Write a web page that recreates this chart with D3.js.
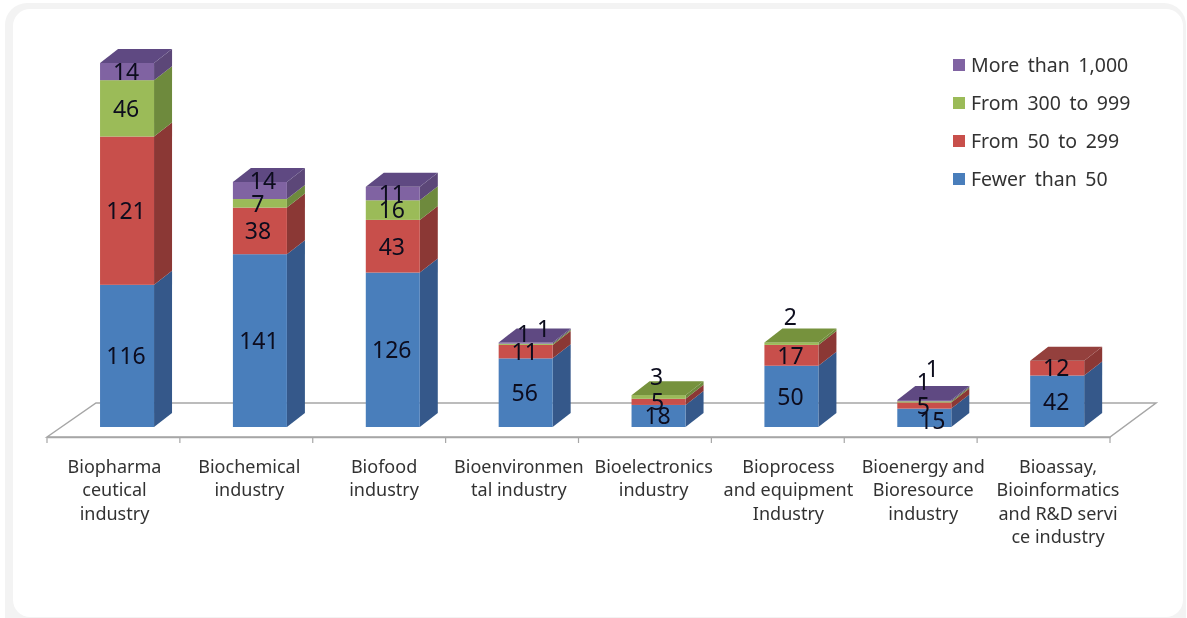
<!DOCTYPE html>
<html><head><meta charset="utf-8">
<script src="https://cdn.jsdelivr.net/npm/d3@7"></script>
<style>html,body{margin:0;padding:0;background:#fff}svg{display:block}text{font-family:"Noto Sans",sans-serif}</style>
</head><body><svg id="c" width="1187" height="618"></svg>
<script>
const categories = [
  ["Biopharma","ceutical","industry"],
  ["Biochemical","industry"],
  ["Biofood","industry"],
  ["Bioenvironmen","tal industry"],
  ["Bioelectronics","industry"],
  ["Bioprocess","and equipment","Industry"],
  ["Bioenergy and","Bioresource","industry"],
  ["Bioassay,","Bioinformatics","and R&D servi","ce industry"]
];
const seriesNames = ["Fewer than 50","From 50 to 299","From 300 to 999","More than 1,000"];
const fewerThan50 = [116,141,126,56,18,50,15,42];
const from50to299 = [121,38,43,11,5,17,5,12];
const from300to999 = [46,7,16,1,3,2,1,0];
const moreThan1000 = [14,14,11,1,0,0,1,0];
const seriesValues = [fewerThan50,from50to299,from300to999,moreThan1000];
const frontColors = ["#4a7ebb","#c8504b","#9bbb59","#8064a2"];
const sideColors = ["#34598a","#8b3735","#6e8a3c","#5b4778"];
const topColors = ["#34598a","#94403c","#76923c","#5f4a82"];
// hand nudges for data labels that were moved off their segment centre: [series, category, dx, dy]
const labelNudges = [
  [3,1,4,-10],[2,1,-1,0],[1,1,-1,0],[2,3,-1,-11],[3,3,19,-14],
  [2,4,-1,-20],[2,5,0,-27],[0,6,9,3],[2,6,0,-20],[3,6,9,-32]
];

const svg = d3.select("#c");
const defs = svg.append("defs");
defs.append("filter").attr("id","soft").append("feGaussianBlur").attr("stdDeviation",0.45);

// card
svg.append("rect").attr("x",5).attr("y",3).attr("width",1181).attr("height",640).attr("rx",22).attr("fill","#f3f3f3");
svg.append("rect").attr("x",13).attr("y",9).attr("width",1170).attr("height",608).attr("rx",17).attr("fill","#fff");

const x = d3.scaleBand().domain(d3.range(8)).range([47,1110]);
const y = d3.scaleLinear().domain([0,297]).range([427,63]);
const labelX = d3.scaleLinear().domain([0,7]).range([114.5,1058]);
const barW = 54, dX = 18, dY = 14;
const cx = i => x(i) + x.bandwidth()/2 + 13.6;

const root = svg.append("g").attr("filter","url(#soft)");

// floor
root.append("path")
  .attr("d",`M47,437L96,403H1156L1110,437Z`)
  .attr("fill","#fff").attr("stroke","#a6a6a6").attr("stroke-width",1.5);

// axis
const axis = d3.axisBottom(x).tickSize(0).tickFormat("");
const ag = root.append("g").attr("transform","translate(0,437)").call(axis);
ag.select(".domain").attr("stroke","#a6a6a6").attr("stroke-width",1.5);
ag.selectAll(".tick").remove();
root.append("g").selectAll("line").data(d3.range(9)).join("line")
  .attr("x1",i=>i<8?x(i):1110).attr("x2",i=>i<8?x(i):1110)
  .attr("y1",437).attr("y2",443).attr("stroke","#a6a6a6").attr("stroke-width",1.2);

// bars
const stack = d3.stack().keys(d3.range(4)).value((d,k)=>d[k]);
const rows = categories.map((c,i)=>seriesValues.map(s=>s[i]));
const layers = stack(rows);
categories.forEach((c,i)=>{
  const g = root.append("g");
  const x0 = cx(i)-barW/2, x1 = x0+barW;
  let topK = 0;
  layers.forEach((l,k)=>{ if(seriesValues[k][i]>0) topK=k; });
  layers.forEach((l,k)=>{
    if(seriesValues[k][i]<=0) return;
    const y0=y(l[i][0]), y1=y(l[i][1]);
    g.append("path").attr("d",`M${x1},${y0}L${x1+dX},${y0-dY}V${y1-dY}L${x1},${y1}Z`).attr("fill",sideColors[k]);
    g.append("rect").attr("x",x0).attr("y",y1).attr("width",barW).attr("height",y0-y1).attr("fill",frontColors[k]);
    if(k===topK){
      g.append("path").attr("d",`M${x0},${y1}L${x0+dX},${y1-dY}H${x1+dX}L${x1},${y1}Z`).attr("fill",topColors[k]);
    }
  });
});

// data labels
layers.forEach((l,k)=>{
  categories.forEach((c,i)=>{
    const v=seriesValues[k][i];
    if(v<=0) return;
    const n=labelNudges.find(a=>a[0]===k&&a[1]===i)||[k,i,0,0];
    root.append("text").attr("x",cx(i)+n[2]-1).attr("y",(y(l[i][0])+y(l[i][1]))/2+n[3])
      .attr("text-anchor","middle").attr("dy","0.36em")
      .attr("font-size",23).attr("fill","#0a0a1e").text(v);
  });
});

// category labels
categories.forEach((c,i)=>{
  const t=root.append("text").attr("text-anchor","middle").attr("font-size",18).attr("fill","#333");
  c.forEach((s,j)=>t.append("tspan").attr("x",labelX(i)).attr("y",473+j*23.3).text(s));
});

// legend
const legendY = d3.scalePoint().domain([3,2,1,0]).range([65,179]);
[3,2,1,0].forEach(k=>{
  root.append("rect").attr("x",953).attr("y",legendY(k)-6).attr("width",12).attr("height",12).attr("fill",frontColors[k]);
  root.append("text").attr("x",971).attr("y",legendY(k)+7).attr("font-size",19.5).attr("fill","#333")
    .attr("word-spacing",3.5).text(seriesNames[k]);
});
</script></body></html>
